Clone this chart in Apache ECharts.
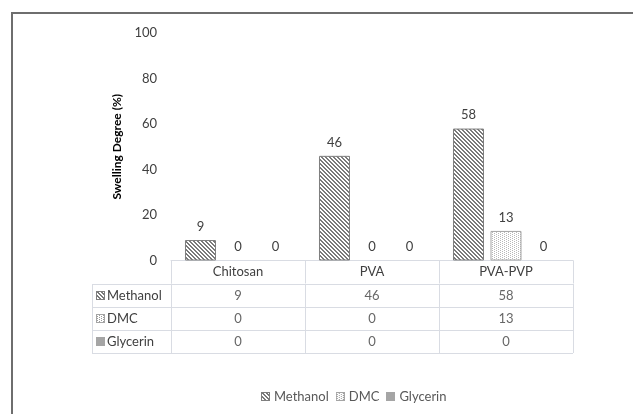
<!DOCTYPE html>
<html><head><meta charset="utf-8">
<script src="https://cdn.jsdelivr.net/npm/echarts@6/dist/echarts.min.js"></script>
<style>html,body{margin:0;padding:0;background:#fff}#c{width:633px;height:414px}</style>
</head><body><div id="c"></div>
<script>
const categories = ['Chitosan', 'PVA', 'PVA-PVP'];
const seriesNames = ['Methanol', 'DMC', 'Glycerin'];
const methanol = [9, 46, 58];
const dmc = [0, 0, 13];
const glycerin = [0, 0, 0];
const yTicks = [0, 20, 40, 60, 80, 100];
const FONT = 'Lato, "Noto Sans", sans-serif';

function hatch() {
  const c = document.createElement('canvas'); c.width = 4; c.height = 4;
  const g = c.getContext('2d');
  g.fillStyle = '#fff'; g.fillRect(0, 0, 4, 4);
  g.fillStyle = '#7a7a7a';
  for (let i = 0; i < 4; i++) { g.fillRect(i, i, 1, 1); g.fillRect((i + 1) % 4, i, 1, 1); }
  return c;
}
function dots() {
  const c = document.createElement('canvas'); c.width = 4; c.height = 2;
  const g = c.getContext('2d');
  g.fillStyle = '#fff'; g.fillRect(0, 0, 4, 2);
  g.fillStyle = '#b8b8b8';
  g.fillRect(0, 0, 1, 1); g.fillRect(2, 1, 1, 1);
  return c;
}
function icon(kind) {
  const c = document.createElement('canvas'); c.width = 9; c.height = 9;
  const g = c.getContext('2d');
  g.fillStyle = '#fff'; g.fillRect(0, 0, 9, 9);
  if (kind === 0) {
    g.fillStyle = '#7a7a7a';
    for (let y = 0; y < 9; y++) for (let x = 0; x < 9; x++) if (((x - y) % 4 + 4) % 4 < 2) g.fillRect(x, y, 1, 1);
    g.strokeStyle = '#7f7f7f';
  } else if (kind === 1) {
    g.fillStyle = '#9a9a9a';
    for (let y = 0; y < 9; y++) for (let x = 0; x < 9; x++) if ((x % 4 === 1 && y % 2 === 0) || (x % 4 === 3 && y % 2 === 1)) g.fillRect(x, y, 1, 1);
    g.strokeStyle = '#a5a5a5';
  } else {
    g.fillStyle = '#a5a5a5'; g.fillRect(0, 0, 9, 9);
    g.strokeStyle = '#a5a5a5';
  }
  g.lineWidth = 1; g.strokeRect(0.5, 0.5, 8, 8);
  return c;
}
const hatchC = hatch(), dotsC = dots();
const icons = [icon(0), icon(1), icon(2)];
const fills = [
  { image: hatchC, repeat: 'repeat' },
  { image: dotsC, repeat: 'repeat' },
  '#a5a5a5'
];
const borders = ['#7f7f7f', '#a5a5a5', '#a5a5a5'];
const values = [methanol, dmc, glycerin];

const tableData = [];
values.forEach((arr, r) => arr.forEach((v, c) => tableData.push([c, r, v])));

const lineColor = '#d9dce3';
const txt = '#404040';

const chart = echarts.init(document.getElementById('c'));
chart.setOption({
  animation: false,
  backgroundColor: '#fff',
  grid: [
    { left: 171, right: 60, top: 33, bottom: 153.5 },
    { left: 171, right: 60, top: 284, bottom: 61 }
  ],
  legend: {
    data: seriesNames.map((n, i) => ({ name: n, icon: 'image://' + icons[i].toDataURL() })),
    bottom: 6, left: 256,
    itemWidth: 9, itemHeight: 9, itemGap: 7,
    textStyle: { color: '#595959', fontSize: 13, fontFamily: FONT, padding: [0, 0, 0, -1] }
  },
  xAxis: [
    {
      gridIndex: 0, type: 'category', data: categories,
      axisLine: { show: true, lineStyle: { color: lineColor } },
      axisTick: { show: true, length: 23, lineStyle: { color: lineColor } },
      axisLabel: { color: txt, fontSize: 13, fontFamily: FONT, margin: 5, lineHeight: 13 }
    },
    {
      gridIndex: 1, type: 'category', data: categories,
      axisLine: { show: false }, axisTick: { show: false }, axisLabel: { show: false },
      splitLine: { show: true, lineStyle: { color: lineColor } }
    }
  ],
  yAxis: [
    {
      gridIndex: 0, type: 'value', min: 0, max: 100, interval: 20,
      name: 'Swelling Degree (%)', nameLocation: 'middle', nameGap: 42,
      nameTextStyle: { color: '#000', fontWeight: 'bold', fontSize: 12, fontFamily: FONT },
      axisLine: { show: false }, axisTick: { show: false }, splitLine: { show: false },
      axisLabel: { color: txt, fontSize: 13, fontFamily: FONT, margin: 14,
        formatter: v => yTicks.includes(v) ? String(v) : '' }
    },
    {
      gridIndex: 1, type: 'category', data: seriesNames, inverse: true,
      axisLine: { show: true, lineStyle: { color: lineColor } },
      axisTick: { show: true, length: 79, lineStyle: { color: lineColor } },
      splitLine: { show: true, lineStyle: { color: lineColor } },
      axisLabel: {
        align: 'left', margin: 75, color: txt, fontSize: 13, fontFamily: FONT,
        formatter: (v, i) => '{i' + i + '|}{t|' + v + '}',
        rich: {
          i0: { width: 9, height: 9, backgroundColor: { image: icons[0] } },
          i1: { width: 9, height: 9, backgroundColor: { image: icons[1] } },
          i2: { width: 9, height: 9, backgroundColor: { image: icons[2] } },
          t: { padding: [0, 0, 0, 2], color: txt, fontSize: 13, fontFamily: FONT }
        }
      }
    }
  ],
  graphic: [
    { type: 'line', shape: { x1: 92.5, y1: 284, x2: 92.5, y2: 353 }, style: { stroke: lineColor, lineWidth: 1 } },
    { type: 'polyline', shape: { points: [[12, 414], [12, 13], [633, 13]] }, style: { stroke: '#6e6e6e', lineWidth: 2, fill: null } }
  ],
  series: seriesNames.map((name, i) => ({
    name, type: 'bar', xAxisIndex: 0, yAxisIndex: 0,
    data: values[i].map(v => v === 0 ? { value: v, itemStyle: { borderWidth: 0 } } : v),
    barWidth: 31, barGap: '21%',
    itemStyle: { color: fills[i], borderColor: borders[i], borderWidth: 1 },
    label: { show: true, position: 'top', distance: 7, color: txt, fontSize: 13, fontFamily: FONT }
  })).concat([{
    type: 'scatter', xAxisIndex: 1, yAxisIndex: 1, data: tableData,
    symbolSize: 1, itemStyle: { color: 'rgba(0,0,0,0)' }, silent: true,
    label: { show: true, position: 'inside', formatter: p => String(p.value[2]),
      color: txt, fontSize: 13, fontFamily: FONT }
  }])
});
</script></body></html>
